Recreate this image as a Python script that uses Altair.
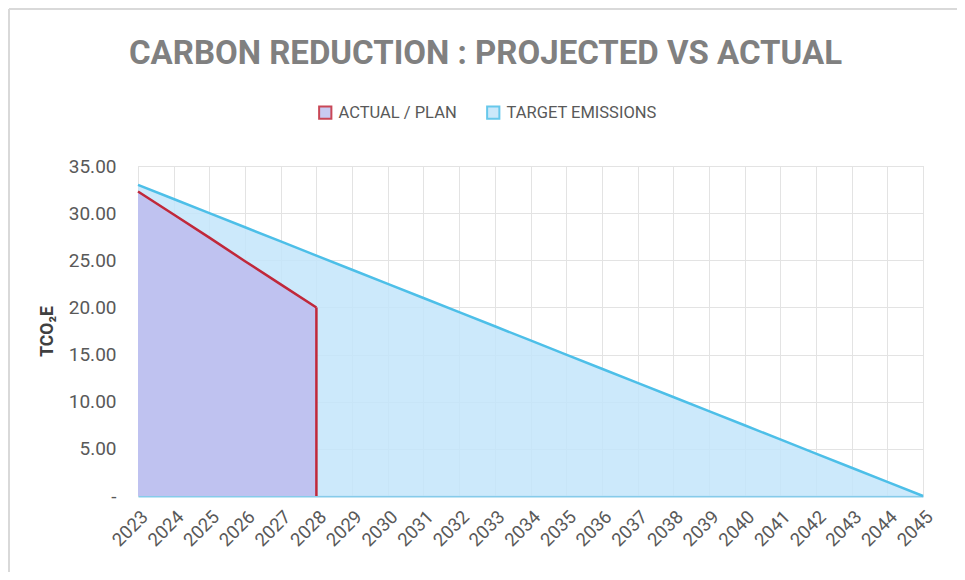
import altair as alt
import pandas as pd

# ---- data ----
years = [2023, 2024, 2025, 2026, 2027, 2028, 2029, 2030, 2031, 2032, 2033, 2034,
         2035, 2036, 2037, 2038, 2039, 2040, 2041, 2042, 2043, 2044, 2045]
target = [33.0, 31.5, 30.0, 28.5, 27.0, 25.5, 24.0, 22.5, 21.0, 19.5, 18.0, 16.5,
          15.0, 13.5, 12.0, 10.5, 9.0, 7.5, 6.0, 4.5, 3.0, 1.5, 0.0]
actual_years = [2023, 2024, 2025, 2026, 2027, 2028]
actual = [32.30, 29.85, 27.40, 24.90, 22.45, 20.00]
series_names = ["ACTUAL / PLAN", "TARGET EMISSIONS"]
y_ticks = [0, 5, 10, 15, 20, 25, 30, 35]

target_df = pd.DataFrame({"year": years, "value": target, "series": series_names[1]})
actual_df = pd.DataFrame({"year": actual_years, "value": actual, "series": series_names[0]})
end_df = actual_df.tail(1)
frame_df = pd.DataFrame({"a": [0]})

FONT = "Roboto"
fill_scale = alt.Scale(domain=series_names, range=["#BFC2F0", "#C3E5FA"])
stroke_scale = alt.Scale(domain=series_names, range=["#C0283A", "#4DBFE8"])

x = alt.X("year:Q",
          scale=alt.Scale(domain=[2023, 2045], nice=False, zero=False),
          axis=alt.Axis(values=years, format="d", labelAngle=-45, ticks=False,
                        labelPadding=11, labelFont=FONT, labelFontSize=18.5,
                        labelColor="#595959", grid=True, gridColor="#E3E3E3",
                        domainColor="#86CBEA", domainWidth=2, labelOverlap=False),
          title=None)
y = alt.Y("value:Q",
          scale=alt.Scale(domain=[0, 35], nice=False),
          axis=alt.Axis(values=y_ticks,
                        labelExpr="datum.value == 0 ? '-\u00a0\u00a0' : format(datum.value, '.2f')",
                        ticks=False, domain=False, labelPadding=22, labelFont=FONT,
                        labelFontSize=19, labelColor="#595959", grid=True,
                        gridColor="#E3E3E3", titleFont=FONT, titleFontSize=17.5,
                        titleFontWeight="bold", titleColor="#404040", titlePadding=12),
          title="TCO\u2082E")

legend = alt.Legend(title=None, orient="none", legendX=179, legendY=-62,
                    direction="horizontal", symbolType="square", symbolSize=150,
                    symbolStrokeWidth=2, labelFont=FONT, labelFontSize=16.5,
                    labelColor="#595959", columnPadding=26, labelOffset=5)

blue_area = alt.Chart(target_df).mark_area(opacity=0.85).encode(
    x=x, y=y, fill=alt.Fill("series:N", scale=fill_scale, legend=legend))
purple_area = alt.Chart(actual_df).mark_area().encode(
    x=x, y=y, fill=alt.Fill("series:N", scale=fill_scale, legend=legend))
blue_line = alt.Chart(target_df).mark_line(strokeWidth=2.5).encode(
    x=x, y=y, stroke=alt.Stroke("series:N", scale=stroke_scale, legend=legend))
red_line = alt.Chart(actual_df).mark_line(strokeWidth=2.5).encode(
    x=x, y=y, stroke=alt.Stroke("series:N", scale=stroke_scale, legend=legend))
red_drop = alt.Chart(end_df).mark_rule(color="#C0283A", strokeWidth=2.5).encode(
    x=x, y=y, y2=alt.datum(0))

frame_top = alt.Chart(frame_df).mark_rule(color="#D9D9D9", strokeWidth=2).encode(
    x=alt.value(-129), x2=alt.value(830), y=alt.value(-157))
frame_left = alt.Chart(frame_df).mark_rule(color="#D9D9D9", strokeWidth=2).encode(
    x=alt.value(-129), y=alt.value(-157), y2=alt.value(420))

chart = alt.layer(frame_top, frame_left, blue_area, purple_area, blue_line,
                  red_line, red_drop).properties(
    width=785, height=330,
    autosize=alt.AutoSizeParams(type="none"),
    padding={"left": 130, "top": 158, "right": 34, "bottom": 76},
    title=alt.Title("CARBON REDUCTION : PROJECTED VS ACTUAL", font=FONT,
                    fontSize=33, fontWeight="bold", color="#808080",
                    anchor="middle", frame="group", dx=-45, dy=89, offset=0,
                    baseline="alphabetic"),
).configure_view(stroke=None).configure(background="white")

chart.save("out.html", embed_options={"renderer": "svg", "actions": False})
